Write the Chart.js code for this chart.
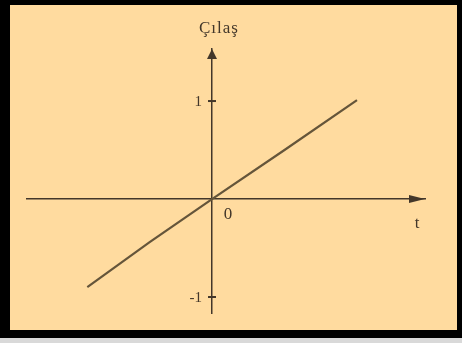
<!DOCTYPE html>
<html>
<head>
<meta charset="utf-8">
<script src="https://cdn.jsdelivr.net/npm/chart.js@4.4.1/dist/chart.umd.min.js"></script>
<style>
  body { margin: 0; background: #d9d9d9; }
  #cerceve {
    position: absolute; left: 0; top: 0; width: 462px; height: 338px;
    box-sizing: border-box; background: #ffdb9f;
    border-style: solid; border-color: #000;
    border-width: 5px 5px 8px 10px;
  }
  #grafico { display: block; }
</style>
</head>
<body>
<div id="cerceve"><canvas id="grafico" width="447" height="325"></canvas></div>
<script>
// Dados
const tempo = [-0.86, -0.43, 0, 0.5, 1];
const valores = [-0.9, -0.44, 0, 0.5, 1.01];
const marcasY = [-1, 1];
const rotuloY = 'Çılaş';
const rotuloX = 't';
const rotuloOrigem = '0';

const corEixo = '#43372a';
const corLinha = '#65553a';
const fonteSerif = '"Liberation Serif", "DejaVu Serif", serif';

// Plugin para setas, marcas e rótulos dos eixos
const eixosPlugin = {
  id: 'eixos',
  afterDraw(chart) {
    const ctx = chart.ctx;
    const x = chart.scales.x;
    const y = chart.scales.y;
    const x0 = x.getPixelForValue(0);
    const y0 = y.getPixelForValue(0);
    const area = chart.chartArea;
    ctx.save();
    ctx.fillStyle = corEixo;
    ctx.strokeStyle = corEixo;
    ctx.lineWidth = 2;

    // seta do eixo t
    ctx.beginPath();
    ctx.moveTo(area.right, y0);
    ctx.lineTo(area.right - 16, y0 - 4);
    ctx.lineTo(area.right - 16, y0 + 4);
    ctx.closePath();
    ctx.fill();

    // seta do eixo vertical
    ctx.beginPath();
    ctx.moveTo(x0, area.top);
    ctx.lineTo(x0 - 5, area.top + 10);
    ctx.lineTo(x0 + 5, area.top + 10);
    ctx.closePath();
    ctx.fill();

    // marcas e números do eixo vertical
    ctx.font = '15px ' + fonteSerif;
    ctx.textAlign = 'right';
    ctx.textBaseline = 'middle';
    y.ticks.forEach(t => {
      const py = y.getPixelForValue(t.value);
      ctx.beginPath();
      ctx.moveTo(x0 - 4, py);
      ctx.lineTo(x0 + 4, py);
      ctx.stroke();
      ctx.fillText(String(t.value), x0 - 10, py + 1);
    });

    ctx.font = '17px ' + fonteSerif;
    ctx.textAlign = 'center';
    ctx.fillText(rotuloOrigem, x0 + 16, y0 + 16);
    ctx.fillText(rotuloX, area.right - 8, y0 + 25);
    ctx.letterSpacing = '1px';
    ctx.fillText(rotuloY, x0 + 7, 24);
    ctx.restore();
  }
};

new Chart(document.getElementById('grafico'), {
  type: 'scatter',
  data: {
    datasets: [{
      data: tempo.map((t, i) => ({ x: t, y: valores[i] })),
      showLine: true,
      borderColor: corLinha,
      borderWidth: 2.2,
      pointRadius: 0,
      tension: 0
    }]
  },
  options: {
    responsive: false,
    animation: false,
    layout: { padding: { left: 17, right: 32, top: 44, bottom: 17 } },
    plugins: { legend: { display: false }, tooltip: { enabled: false } },
    scales: {
      x: {
        type: 'linear',
        position: { y: 0 },
        min: -1.276, max: 1.469,
        grid: { display: false },
        border: { display: true, color: corEixo, width: 1.5 },
        ticks: { display: false }
      },
      y: {
        type: 'linear',
        position: { x: 0 },
        min: -1.163, max: 1.531,
        afterBuildTicks: s => { s.ticks = marcasY.map(v => ({ value: v })); },
        grid: { display: false },
        border: { display: true, color: corEixo, width: 1.5 },
        ticks: { display: false }
      }
    }
  },
  plugins: [eixosPlugin]
});
</script>
</body>
</html>
